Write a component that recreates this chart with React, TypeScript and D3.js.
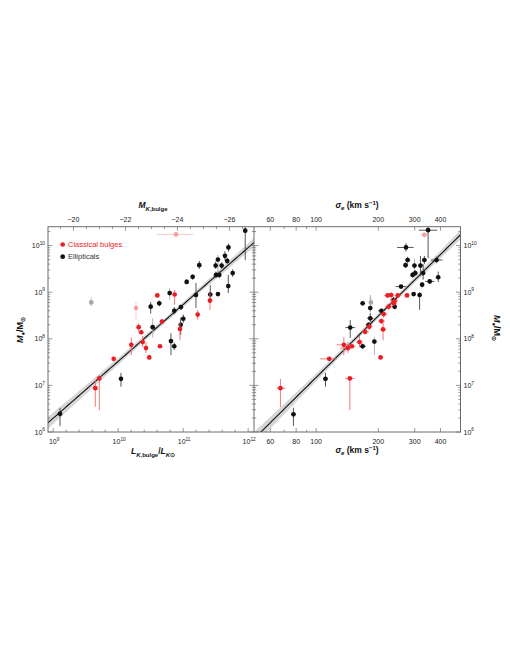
import React from "react";
import * as d3 from "d3";

// ---------- data (log10 values) ----------
// Left panel: x = log L_K,bulge / L_Ksun, y = log M_BH / M_sun
const lumEllipticals = [
  { x: 11.955, y: 10.32, lo: 9.69, hi: 10.45 },
  { x: 11.697, y: 9.96, lo: 9.87, hi: 10.04 },
  { x: 11.643, y: 9.78, lo: 9.68, hi: 9.88 },
  { x: 11.678, y: 9.67, lo: 9.6, hi: 9.74 },
  { x: 11.592, y: 9.57, lo: 9.5, hi: 9.64 },
  { x: 11.535, y: 9.7, lo: 9.37, hi: 9.8, faint: true },
  { x: 11.5, y: 9.57, lo: 9.5, hi: 9.66 },
  { x: 11.505, y: 9.37, lo: 9.3, hi: 9.44 },
  { x: 11.555, y: 9.37, lo: 9.3, hi: 9.45 },
  { x: 11.248, y: 9.58, lo: 9.5, hi: 9.67 },
  { x: 11.146, y: 9.33, lo: 9.27, hi: 9.38 },
  { x: 11.054, y: 9.22, lo: 9.17, hi: 9.28 },
  { x: 11.762, y: 9.41, lo: 9.33, hi: 9.49 },
  { x: 11.694, y: 9.13, lo: 8.98, hi: 9.37 },
  { x: 11.535, y: 8.96, lo: 8.92, hi: 9.0 },
  { x: 11.417, y: 8.95, lo: 8.77, hi: 9.15 },
  { x: 11.197, y: 8.94, lo: 8.66, hi: 9.2 },
  { x: 10.792, y: 8.98, lo: 8.83, hi: 9.09, faint: true },
  { x: 10.632, y: 8.76, lo: 8.7, hi: 8.82 },
  { x: 10.5, y: 8.69, lo: 8.54, hi: 8.79 },
  { x: 10.863, y: 8.6, lo: 8.52, hi: 8.68 },
  { x: 10.966, y: 8.68, lo: 8.62, hi: 8.73 },
  { x: 10.962, y: 8.3, lo: 8.08, hi: 8.45 },
  { x: 11.002, y: 8.43, lo: 8.34, hi: 8.52 },
  { x: 10.531, y: 8.25, lo: 8.03, hi: 8.44, faint: true },
  { x: 10.812, y: 7.95, lo: 7.65, hi: 8.12 },
  { x: 10.863, y: 7.84, lo: 7.76, hi: 7.92 },
  { x: 10.043, y: 7.14, lo: 6.97, hi: 7.27 },
  { x: 9.105, y: 6.39, lo: 6.13, hi: 6.52 },
];
const lumBulges = [
  { x: 10.602, y: 8.93, lo: 8.88, hi: 8.97 },
  { x: 10.869, y: 8.95, lo: 8.73, hi: 9.05 },
  { x: 11.412, y: 8.82, lo: 8.62, hi: 8.98 },
  { x: 11.223, y: 8.52, lo: 8.41, hi: 8.62 },
  { x: 10.951, y: 8.21, lo: 7.97, hi: 8.34 },
  { x: 10.674, y: 8.37, lo: 8.31, hi: 8.43 },
  { x: 10.315, y: 8.25, lo: 8.15, hi: 8.33 },
  { x: 10.355, y: 8.14, lo: 8.09, hi: 8.19 },
  { x: 10.202, y: 7.87, lo: 7.65, hi: 8.03 },
  { x: 10.377, y: 7.93, lo: 7.82, hi: 8.06 },
  { x: 10.428, y: 7.8, lo: 7.7, hi: 7.93 },
  { x: 10.643, y: 7.84, lo: 7.8, hi: 7.88 },
  { x: 10.478, y: 7.6, lo: 7.55, hi: 7.65 },
  { x: 9.931, y: 7.57, lo: 7.53, hi: 7.61 },
  { x: 9.709, y: 7.15, lo: 6.47, hi: 7.22 },
  { x: 9.648, y: 6.94, lo: 6.54, hi: 7.12 },
];
const lumExcludedBulges = [
  { x: 10.889, y: 10.24, lo: 10.2, hi: 10.28, xlo: 10.592, xhi: 11.155 },
  { x: 10.274, y: 8.66, lo: 8.4, hi: 8.79 },
];
const lumExcludedEllipticals = [{ x: 9.586, y: 8.78, lo: 8.7, hi: 8.9 }];

// Right panel: x = log sigma_e (km/s)
const sigEllipticals = [
  { x: 2.542, y: 10.33, lo: 9.73, hi: 10.45, xlo: 2.497, xhi: 2.586 },
  { x: 2.435, y: 9.96, lo: 9.87, hi: 10.05, xlo: 2.392, xhi: 2.472 },
  { x: 2.443, y: 9.69, lo: 9.62, hi: 9.76, xlo: 2.43, xhi: 2.455 },
  { x: 2.433, y: 9.58, lo: 9.52, hi: 9.64, xlo: 2.42, xhi: 2.445 },
  { x: 2.476, y: 9.57, lo: 9.37, hi: 9.72, xlo: 2.465, xhi: 2.487, faint: true },
  { x: 2.505, y: 9.57, lo: 9.35, hi: 9.78, xlo: 2.495, xhi: 2.515 },
  { x: 2.524, y: 9.69, lo: 9.6, hi: 9.78, xlo: 2.513, xhi: 2.535 },
  { x: 2.583, y: 9.69, lo: 9.62, hi: 9.76, xlo: 2.555, xhi: 2.612 },
  { x: 2.467, y: 9.37, lo: 9.31, hi: 9.43, xlo: 2.457, xhi: 2.477 },
  { x: 2.48, y: 9.41, lo: 9.35, hi: 9.47, xlo: 2.47, xhi: 2.49 },
  { x: 2.518, y: 9.41, lo: 9.27, hi: 9.6, xlo: 2.508, xhi: 2.528 },
  { x: 2.55, y: 9.23, lo: 9.18, hi: 9.27, xlo: 2.528, xhi: 2.572 },
  { x: 2.591, y: 9.32, lo: 9.22, hi: 9.44, xlo: 2.583, xhi: 2.599 },
  { x: 2.513, y: 9.16, lo: 9.1, hi: 9.21, xlo: 2.503, xhi: 2.523 },
  { x: 2.411, y: 9.12, lo: 9.08, hi: 9.16, xlo: 2.385, xhi: 2.437 },
  { x: 2.501, y: 8.94, lo: 8.62, hi: 9.0, xlo: 2.491, xhi: 2.511 },
  { x: 2.472, y: 8.96, lo: 8.92, hi: 9.0, xlo: 2.462, xhi: 2.482 },
  { x: 2.225, y: 8.76, lo: 8.73, hi: 8.79, xlo: 2.22, xhi: 2.23 },
  { x: 2.262, y: 8.66, lo: 8.52, hi: 8.94, xlo: 2.25, xhi: 2.274, faint: true },
  { x: 2.375, y: 8.83, lo: 8.77, hi: 8.9, xlo: 2.36, xhi: 2.39 },
  { x: 2.316, y: 8.6, lo: 8.55, hi: 8.65, xlo: 2.3, xhi: 2.33 },
  { x: 2.38, y: 8.69, lo: 8.63, hi: 8.76, xlo: 2.37, xhi: 2.39 },
  { x: 2.262, y: 8.44, lo: 8.36, hi: 8.54, xlo: 2.247, xhi: 2.277 },
  { x: 2.254, y: 8.3, lo: 8.24, hi: 8.36, xlo: 2.24, xhi: 2.268 },
  { x: 2.165, y: 8.24, lo: 8.02, hi: 8.4, xlo: 2.141, xhi: 2.189 },
  { x: 2.282, y: 7.94, lo: 7.65, hi: 8.04, xlo: 2.275, xhi: 2.289, faint: true },
  { x: 2.225, y: 7.84, lo: 7.78, hi: 7.9, xlo: 2.21, xhi: 2.24 },
  { x: 2.045, y: 7.14, lo: 6.97, hi: 7.27, xlo: 2.033, xhi: 2.057 },
  { x: 1.89, y: 6.38, lo: 6.13, hi: 6.52, xlo: 1.878, xhi: 1.902 },
];
const sigBulges = [
  { x: 2.346, y: 8.93, lo: 8.88, hi: 8.97, xlo: 2.33, xhi: 2.36 },
  { x: 2.363, y: 8.94, lo: 8.8, hi: 9.0, xlo: 2.35, xhi: 2.376 },
  { x: 2.395, y: 8.93, lo: 8.88, hi: 8.97, xlo: 2.38, xhi: 2.41 },
  { x: 2.44, y: 8.93, lo: 8.9, hi: 8.96, xlo: 2.435, xhi: 2.445 },
  { x: 2.38, y: 8.81, lo: 8.73, hi: 8.88, xlo: 2.365, xhi: 2.395 },
  { x: 2.375, y: 8.76, lo: 8.7, hi: 8.82, xlo: 2.36, xhi: 2.39 },
  { x: 2.351, y: 8.69, lo: 8.62, hi: 8.76, xlo: 2.335, xhi: 2.367 },
  { x: 2.327, y: 8.53, lo: 8.45, hi: 8.6, xlo: 2.31, xhi: 2.345 },
  { x: 2.316, y: 8.38, lo: 8.32, hi: 8.43, xlo: 2.3, xhi: 2.333 },
  { x: 2.324, y: 8.2, lo: 7.97, hi: 8.34, xlo: 2.31, xhi: 2.338 },
  { x: 2.257, y: 8.26, lo: 8.18, hi: 8.33, xlo: 2.24, xhi: 2.273 },
  { x: 2.237, y: 8.15, lo: 8.1, hi: 8.19, xlo: 2.22, xhi: 2.255 },
  { x: 2.21, y: 7.93, lo: 7.82, hi: 8.06, xlo: 2.195, xhi: 2.225 },
  { x: 2.173, y: 7.84, lo: 7.8, hi: 7.88, xlo: 2.155, xhi: 2.19 },
  { x: 2.134, y: 7.87, lo: 7.65, hi: 8.03, xlo: 2.1, xhi: 2.165 },
  { x: 2.154, y: 7.8, lo: 7.7, hi: 7.93, xlo: 2.116, xhi: 2.181 },
  { x: 2.312, y: 7.6, lo: 7.58, hi: 7.63, xlo: 2.3, xhi: 2.325 },
  { x: 2.063, y: 7.57, lo: 7.53, hi: 7.61, xlo: 2.019, xhi: 2.1 },
  { x: 2.163, y: 7.15, lo: 6.47, hi: 7.16, xlo: 2.14, xhi: 2.186 },
  { x: 1.827, y: 6.94, lo: 6.54, hi: 7.14, xlo: 1.809, xhi: 1.85 },
];
const sigExcludedBulges = [{ x: 2.524, y: 10.23, lo: 10.19, hi: 10.27, xlo: 2.505, xhi: 2.542 }];
const sigExcludedEllipticals = [{ x: 2.265, y: 8.78, lo: 8.7, hi: 8.9 }];

// fits: log M = a + b (logX - pivot); band from errors on a and b
const lumFit = { a: 8.736, b: 1.22, pivot: 11, ea: 0.055, eb: 0.06, bandPivot: 10.8 };
const sigFit = { a: 8.49, b: 4.38, pivot: Math.log10(200), ea: 0.05, eb: 0.22, bandPivot: 2.3 };

// tick labels
const yTickExps = [6, 7, 8, 9, 10];
const lumTickExps = [9, 10, 11, 12];
const magTickLabels = [-20, -22, -24, -26];
const sigmaTicks = [60, 70, 80, 90, 100, 200, 300, 400];
const sigmaTickLabels = [60, 80, 100, 200, 300, 400];
const MSUN_K = 3.28;

// ---------- layout ----------
const W = 510, H = 660;
const PT = 226.7, PB = 432, LX0 = 48, MID = 254, RX1 = 460.5;
const FONT = "'Liberation Sans', Arial, sans-serif";
const RED = "#ed1c24", PINK = "#f4a0a0", GREYPT = "#a8a8a8", BLACK = "#111";
const FRAME = "#6d6d6d";
const R = 2.35;

const y = d3.scaleLog().domain([1e6, Math.pow(10, 10.405)]).range([PB, PT]);
const xL = d3.scaleLog().domain([Math.pow(10, 8.92), Math.pow(10, 12.09)]).range([LX0, MID]);
const xR = d3.scaleLog().domain([50, 500]).range([MID, RX1]);
const p10 = (v: number) => Math.pow(10, v);

function Pow({ x, yy, exp, anchor }: any) {
  return (
    <text x={x} y={yy} textAnchor={anchor} fontSize={7} fontFamily={FONT} fill="#222">
      10<tspan dy={-3.2} fontSize={4.8}>{exp}</tspan>
    </text>
  );
}

function Points({ data, xs, color, errColor, faintColor }: any) {
  return (
    <g>
      {data.map((d: any, i: number) => {
        const cx = xs(p10(d.x));
        const cy = y(p10(d.y));
        const ec = d.faint ? faintColor : errColor;
        return (
          <g key={i}>
            <line x1={cx} x2={cx} y1={y(p10(d.lo))} y2={y(p10(d.hi))} stroke={ec} strokeWidth={0.9} />
            {d.xlo !== undefined && (
              <line x1={xs(p10(d.xlo))} x2={xs(p10(d.xhi))} y1={cy} y2={cy} stroke={ec} strokeWidth={0.9} />
            )}
            <circle cx={cx} cy={cy} r={R} fill={color} />
          </g>
        );
      })}
    </g>
  );
}

function FitBand({ fit, xs, id }: any) {
  const [d0, d1] = xs.domain();
  const lx = d3.range(0, 101).map((i) => Math.log10(d0) + (i / 100) * (Math.log10(d1) - Math.log10(d0)));
  const f = (v: number) => fit.a + fit.b * (v - fit.pivot);
  const e = (v: number) => Math.sqrt(fit.ea * fit.ea + Math.pow(fit.eb * (v - fit.bandPivot), 2));
  const area = d3
    .area<number>()
    .x((v) => xs(p10(v)))
    .y0((v) => y(p10(f(v) - e(v))))
    .y1((v) => y(p10(f(v) + e(v))));
  const line = d3
    .line<number>()
    .x((v) => xs(p10(v)))
    .y((v) => y(p10(f(v))));
  return (
    <g clipPath={`url(#${id})`}>
      <path d={area(lx) || ""} fill="#d6d6d6" />
      <path d={line(lx) || ""} fill="none" stroke="#111" strokeWidth={1.1} />
    </g>
  );
}

function yMinorTicks() {
  const out: { v: number; major: boolean }[] = [];
  for (const e of yTickExps) {
    for (let k = 1; k <= 9; k++) {
      const v = k * Math.pow(10, e);
      if (v <= y.domain()[1]) out.push({ v, major: k === 1 });
    }
  }
  return out;
}

export default function App() {
  const yt = yMinorTicks();
  const lumTicks = d3.range(9, 12.001, 0.2).map((v) => ({ v, major: Math.abs(v - Math.round(v)) < 1e-6 }));
  const magTicks = d3.range(-19.5, -27, -0.5).map((m) => ({ m, major: magTickLabels.includes(m) }));
  const magToX = (m: number) => xL(p10((MSUN_K - m) / 2.5));
  return (
    <svg width={W} height={H} style={{ position: "absolute", left: 0, top: 0 }} fontFamily={FONT}>
      <defs>
        <clipPath id="clipL"><rect x={LX0} y={PT} width={MID - LX0} height={PB - PT} /></clipPath>
        <clipPath id="clipR"><rect x={MID} y={PT} width={RX1 - MID} height={PB - PT} /></clipPath>
      </defs>
      <rect width={W} height={H} fill="#fff" />

      {/* bands and fits */}
      <FitBand fit={lumFit} xs={xL} id="clipL" />
      <FitBand fit={sigFit} xs={xR} id="clipR" />

      {/* left panel points */}
      <g clipPath="url(#clipL)">
        <Points data={lumExcludedEllipticals} xs={xL} color={GREYPT} errColor="#c4c4c4" faintColor="#c4c4c4" />
        <Points data={lumExcludedBulges} xs={xL} color={PINK} errColor="#f8c4c4" faintColor="#f8c4c4" />
        <Points data={lumEllipticals} xs={xL} color={BLACK} errColor="#444" faintColor="#aaa" />
        <Points data={lumBulges} xs={xL} color={RED} errColor="#f26a6a" faintColor="#f6a0a0" />
      </g>
      {/* right panel points */}
      <g clipPath="url(#clipR)">
        <Points data={sigExcludedEllipticals} xs={xR} color={GREYPT} errColor="#c4c4c4" faintColor="#c4c4c4" />
        <Points data={sigExcludedBulges} xs={xR} color={PINK} errColor="#f8c4c4" faintColor="#f8c4c4" />
        <Points data={sigEllipticals} xs={xR} color={BLACK} errColor="#444" faintColor="#aaa" />
        <Points data={sigBulges} xs={xR} color={RED} errColor="#f26a6a" faintColor="#f6a0a0" />
      </g>

      {/* frames */}
      <rect x={LX0} y={PT} width={RX1 - LX0} height={PB - PT} fill="none" stroke={FRAME} strokeWidth={1} />
      <line x1={MID} x2={MID} y1={PT} y2={PB} stroke={FRAME} strokeWidth={1} />

      {/* y ticks */}
      {yt.map((t, i) => {
        const yy = y(t.v);
        const L = t.major ? 4.5 : 2.2;
        return (
          <g key={i} stroke={FRAME} strokeWidth={0.7}>
            <line x1={LX0} x2={LX0 + L} y1={yy} y2={yy} />
            <line x1={MID - L} x2={MID + L} y1={yy} y2={yy} />
            <line x1={RX1 - L} x2={RX1} y1={yy} y2={yy} />
          </g>
        );
      })}
      {yTickExps.map((e) => (
        <g key={e}>
          <Pow x={45} yy={y(p10(e)) + 2.5} exp={e} anchor="end" />
          <Pow x={463.5} yy={y(p10(e)) + 2.5} exp={e} anchor="start" />
        </g>
      ))}

      {/* left bottom ticks */}
      {lumTicks.map((t, i) => {
        const xx = xL(p10(t.v));
        const L = t.major ? 4 : 2.5;
        return <line key={i} x1={xx} x2={xx} y1={PB} y2={PB - L} stroke={FRAME} strokeWidth={0.7} />;
      })}
      {lumTickExps.map((e) => (
        <Pow key={e} x={xL(p10(e)) + 1} yy={444} exp={e} anchor="middle" />
      ))}
      {/* left top ticks (absolute magnitude) */}
      {magTicks.map((t, i) => {
        const xx = magToX(t.m);
        const L = t.major ? 4 : 2.5;
        return <line key={i} x1={xx} x2={xx} y1={PT} y2={PT + L} stroke={FRAME} strokeWidth={0.7} />;
      })}
      {magTickLabels.map((m) => (
        <text key={m} x={magToX(m)} y={222} textAnchor="middle" fontSize={7} fill="#222">
          {"\u2212" + Math.abs(m)}
        </text>
      ))}

      {/* right ticks (sigma) */}
      {sigmaTicks.map((s) => {
        const xx = xR(s);
        const major = sigmaTickLabels.includes(s);
        const L = major ? 4 : 2.5;
        return (
          <g key={s} stroke={FRAME} strokeWidth={0.7}>
            <line x1={xx} x2={xx} y1={PB} y2={PB - L} />
            <line x1={xx} x2={xx} y1={PT} y2={PT + L} />
          </g>
        );
      })}
      {sigmaTickLabels.map((s) => (
        <g key={s}>
          <text x={xR(s)} y={222} textAnchor="middle" fontSize={7} fill="#222">{s}</text>
          <text x={xR(s)} y={444} textAnchor="middle" fontSize={7} fill="#222">{s}</text>
        </g>
      ))}

      {/* axis titles */}
      <text x={153} y={208} textAnchor="middle" fontSize={8.5} fontWeight="bold" fill="#111">
        <tspan fontStyle="italic">M</tspan>
        <tspan dy={2.5} fontSize={6}><tspan fontStyle="italic">K</tspan>,bulge</tspan>
      </text>
      <text x={153} y={454} textAnchor="middle" fontSize={8.5} fontWeight="bold" fill="#111">
        <tspan fontStyle="italic">L</tspan>
        <tspan dy={2.5} fontSize={6}><tspan fontStyle="italic">K</tspan>,bulge</tspan>
        <tspan dy={-2.5}>/</tspan>
        <tspan fontStyle="italic">L</tspan>
        <tspan dy={2.5} fontSize={6}><tspan fontStyle="italic">K</tspan>{"\u2299"}</tspan>
      </text>
      {[208, 453].map((yy) => (
        <text key={yy} x={357} y={yy} textAnchor="middle" fontSize={8.5} fontWeight="bold" fill="#111">
          <tspan fontStyle="italic">σ</tspan>
          <tspan dy={2} fontSize={6} fontStyle="italic">e</tspan>
          <tspan dy={-2}> (km s</tspan>
          <tspan dy={-3} fontSize={6}>−1</tspan>
          <tspan dy={3}>)</tspan>
        </text>
      ))}
      <text transform="translate(23,330) rotate(-90)" textAnchor="middle" fontSize={9} fontWeight="bold" fill="#111">
        <tspan fontStyle="italic">M</tspan>
        <tspan dy={2} fontSize={6}>●</tspan>
        <tspan dy={-2}>/M</tspan>
        <tspan dy={2} fontSize={6}>⊙</tspan>
      </text>
      <text transform="translate(494,328) rotate(90)" textAnchor="middle" fontSize={9} fontWeight="bold" fill="#111">
        <tspan fontStyle="italic">M</tspan>
        <tspan dy={2} fontSize={6}>●</tspan>
        <tspan dy={-2}>/M</tspan>
        <tspan dy={2} fontSize={6}>⊙</tspan>
      </text>

      {/* legend */}
      <circle cx={62.7} cy={244.5} r={R} fill={RED} />
      <text x={68} y={247.2} fontSize={7.5} fill={RED}>Classical bulges</text>
      <circle cx={62.7} cy={256.7} r={R} fill={BLACK} />
      <text x={68} y={259.4} fontSize={7.5} fill="#333">Ellipticals</text>
    </svg>
  );
}
